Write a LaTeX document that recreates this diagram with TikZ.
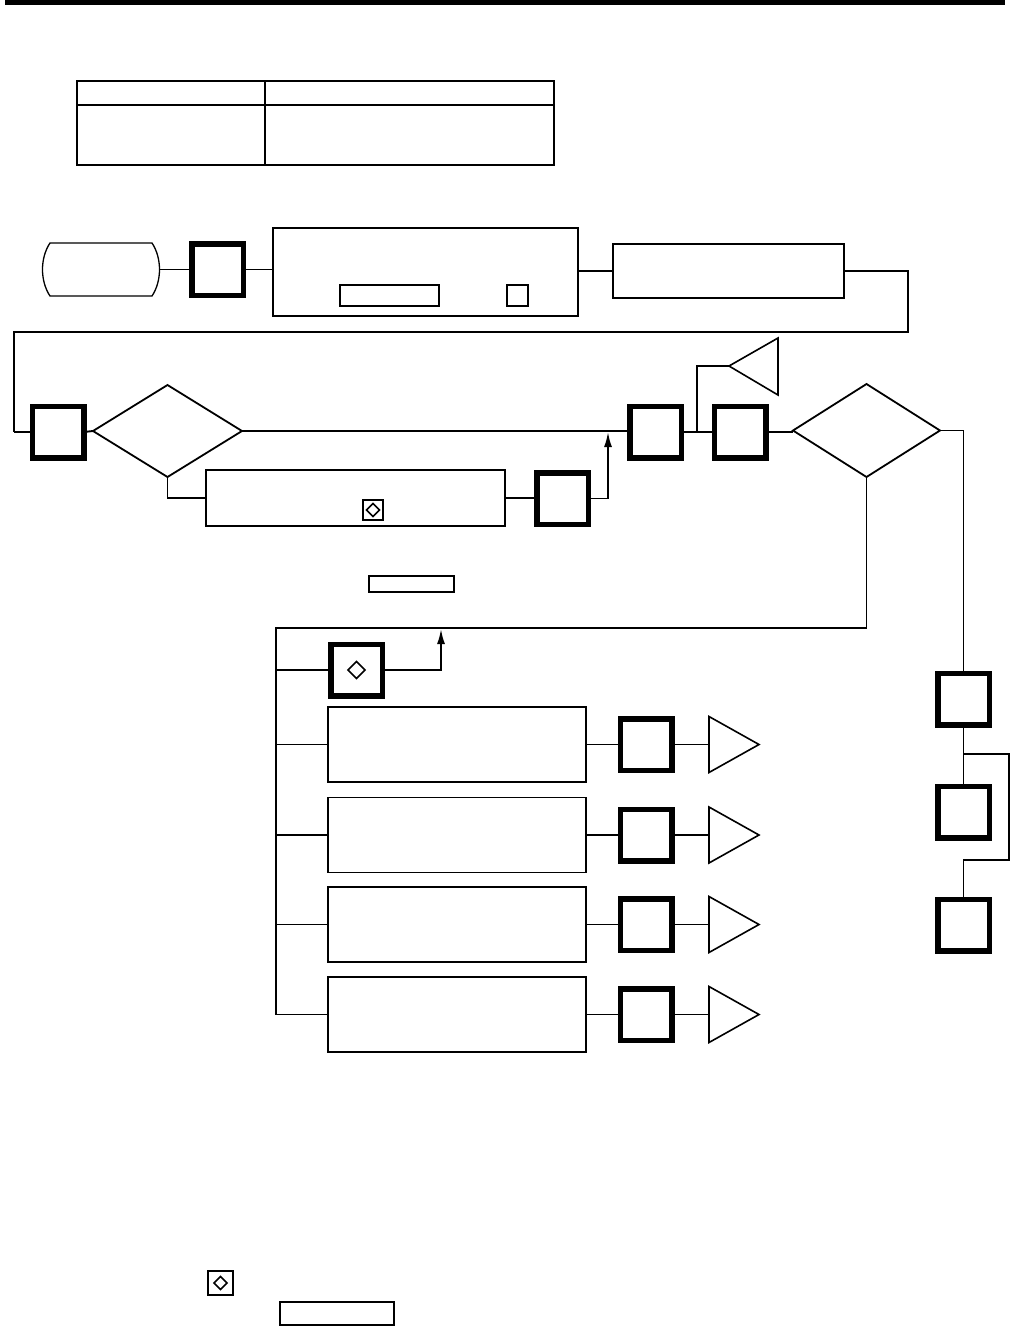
\documentclass[tikz,border=0pt]{standalone}
\usetikzlibrary{shapes.geometric,arrows.meta}
\begin{document}
\begin{tikzpicture}[x=1pt,y=-1pt,
  ln/.style={line width=1.9pt},
  bx/.style={draw,line width=1.8pt,inner sep=0pt,outer sep=0pt},
  tk/.style={draw,line width=5.5pt,inner sep=0pt,outer sep=0pt,minimum size=51.5pt},
  dia/.style={draw,diamond,line width=1.8pt,inner sep=0pt,outer sep=0pt},
  tri/.style={draw,line width=1.6pt,line join=miter},
  arr/.style={ln,-{Latex[length=15pt,width=8pt]}},
  diamark/.style={draw,line width=1.5pt,inner sep=0pt,minimum size=20pt,
    path picture={\draw[line width=1.5pt] ([xshift=-6.5pt]path picture bounding box.center) -- ++(6.5pt,6.5pt) -- ++(6.5pt,-6.5pt) -- ++(-6.5pt,-6.5pt) -- cycle;}}]
\useasboundingbox (0,0) rectangle (1010,1327);
% top bar
\fill (5,0) rectangle (1005,5);
% table
\draw[line width=1.5pt] (77,81) rectangle (554,165);
\draw[line width=1.5pt] (77,105) -- (554,105);
\draw[line width=1.2pt] (265,81) -- (265,165);
% terminal
\draw[line width=1.3pt] (50,243) -- (152,243) .. controls (162,258) and (162,281) .. (152,296) -- (50,296) .. controls (40,281) and (40,258) .. (50,243) -- cycle;
\node[minimum width=118pt,minimum height=53pt,inner sep=0pt] (term) at (101,269.5) {};
% row 1
\node[tk] (q1) at (217.5,269.5) {};
\node[bx,minimum width=305pt,minimum height=88pt] (b1) at (425.5,272) {};
\node[bx,minimum width=99pt,minimum height=21pt] (r1) at (389.5,295.5) {};
\node[bx,minimum width=21pt,minimum height=21pt] (s1) at (517.5,295.5) {};
\node[bx,minimum width=231pt,minimum height=54pt] (b2) at (728.5,271) {};
\draw[ln] (term.east) -- (q1.west);
\draw[ln] (q1.east) -- (b1.west |- q1.east);
\draw[ln] (b1.east |- b2.west) -- (b2.west);
\coordinate (c1) at (908,332);
\coordinate (c2) at (14,432);
\draw[ln] (b2.east) -| (c1) -| (c2);
% row 2
\node[tk] (q2) at (58,432) {};
\draw[ln] (c2) -- (q2.west);
\node[dia,minimum width=149pt,minimum height=92pt] (d1) at (167.5,431) {};
\draw[ln] (q2.east) -- (d1.west);
\node[tk] (q4) at (655.5,432) {};
\node[tk] (q5) at (740,432) {};
\draw[ln] (d1.east) -- (q4.west |- d1.east);
\node[bx,minimum width=299pt,minimum height=56pt] (b3) at (355.5,498) {};
\node[diamark] (m1) at (373,510) {};
\node[tk] (q3) at (562.5,498.5) {};
\draw[ln] (d1.south) |- (b3.west);
\draw[ln] (b3.east) -- (q3.west |- b3.east);
\coordinate (a1) at (608,432);
\draw[arr] (q3.east) -| (a1);
\draw[ln] (q4.east) -- (q5.west);
% top triangle
\coordinate (tt) at (729,366);
\draw[tri] (tt) -- (778,338) -- (778,395) -- cycle;
\coordinate (j1) at (697,432);
\draw[ln] (j1) |- (tt);
\node[dia,minimum width=147pt,minimum height=93pt] (d2) at (866.5,430.5) {};
\draw[ln] (q5.east) -- (d2.west |- q5.east);
% right column
\node[tk] (p1) at (963.5,699) {};
\node[tk] (p2) at (963.5,812) {};
\node[tk] (p3) at (963.5,925) {};
\draw[ln] (d2.east) -| (p1.north);
\draw[ln] (p1.south) -- (p2.north);
\coordinate (k1) at (963.5,754);
\coordinate (k2) at (1009,754);
\coordinate (k3) at (1009,860);
\coordinate (k4) at (963.5,860);
\draw[ln] (k1) -- (k2) -- (k3) -- (k4) -- (p3.north);
% floating rect
\node[bx,minimum width=85pt,minimum height=16pt] (fr) at (411.5,584) {};
% lower stack
\coordinate (h1) at (276,628);
\coordinate (h2) at (276,1014.5);
\draw[ln] (d2.south) |- (h1) -- (h2);
\node[tk] (q6) at (356.5,670) {};
\draw[line width=1.5pt] (356.5,661.5) -- (365,670) -- (356.5,678.5) -- (348,670) -- cycle;
\draw[ln] (q6.west -| h1) -- (q6.west);
\coordinate (a2) at (441,629);
\draw[arr] (q6.east) -| (a2);
\foreach \i/\y in {1/744.5,2/835,3/924.5,4/1014.5}{
  \node[bx,minimum width=258pt,minimum height=75pt] (lb\i) at (457,\y) {};
  \node[tk] (lq\i) at (646,\y) {};
  \coordinate (lt\i) at (709,\y);
  \draw[tri] (lt\i) -- ++(0,-28) -- ++(50,28) -- ++(-50,28) -- cycle;
  \draw[ln] (lb\i.west -| h1) -- (lb\i.west);
  \draw[ln] (lb\i.east) -- (lq\i.west);
  \draw[ln] (lq\i.east) -- (lt\i);
}
% bottom marks
\node[diamark,minimum width=25pt,minimum height=24pt] (m2) at (220.5,1283) {};
\node[bx,line width=1.5pt,minimum width=114pt,minimum height=23pt] (fr2) at (337,1313.5) {};
\end{tikzpicture}
\end{document}
